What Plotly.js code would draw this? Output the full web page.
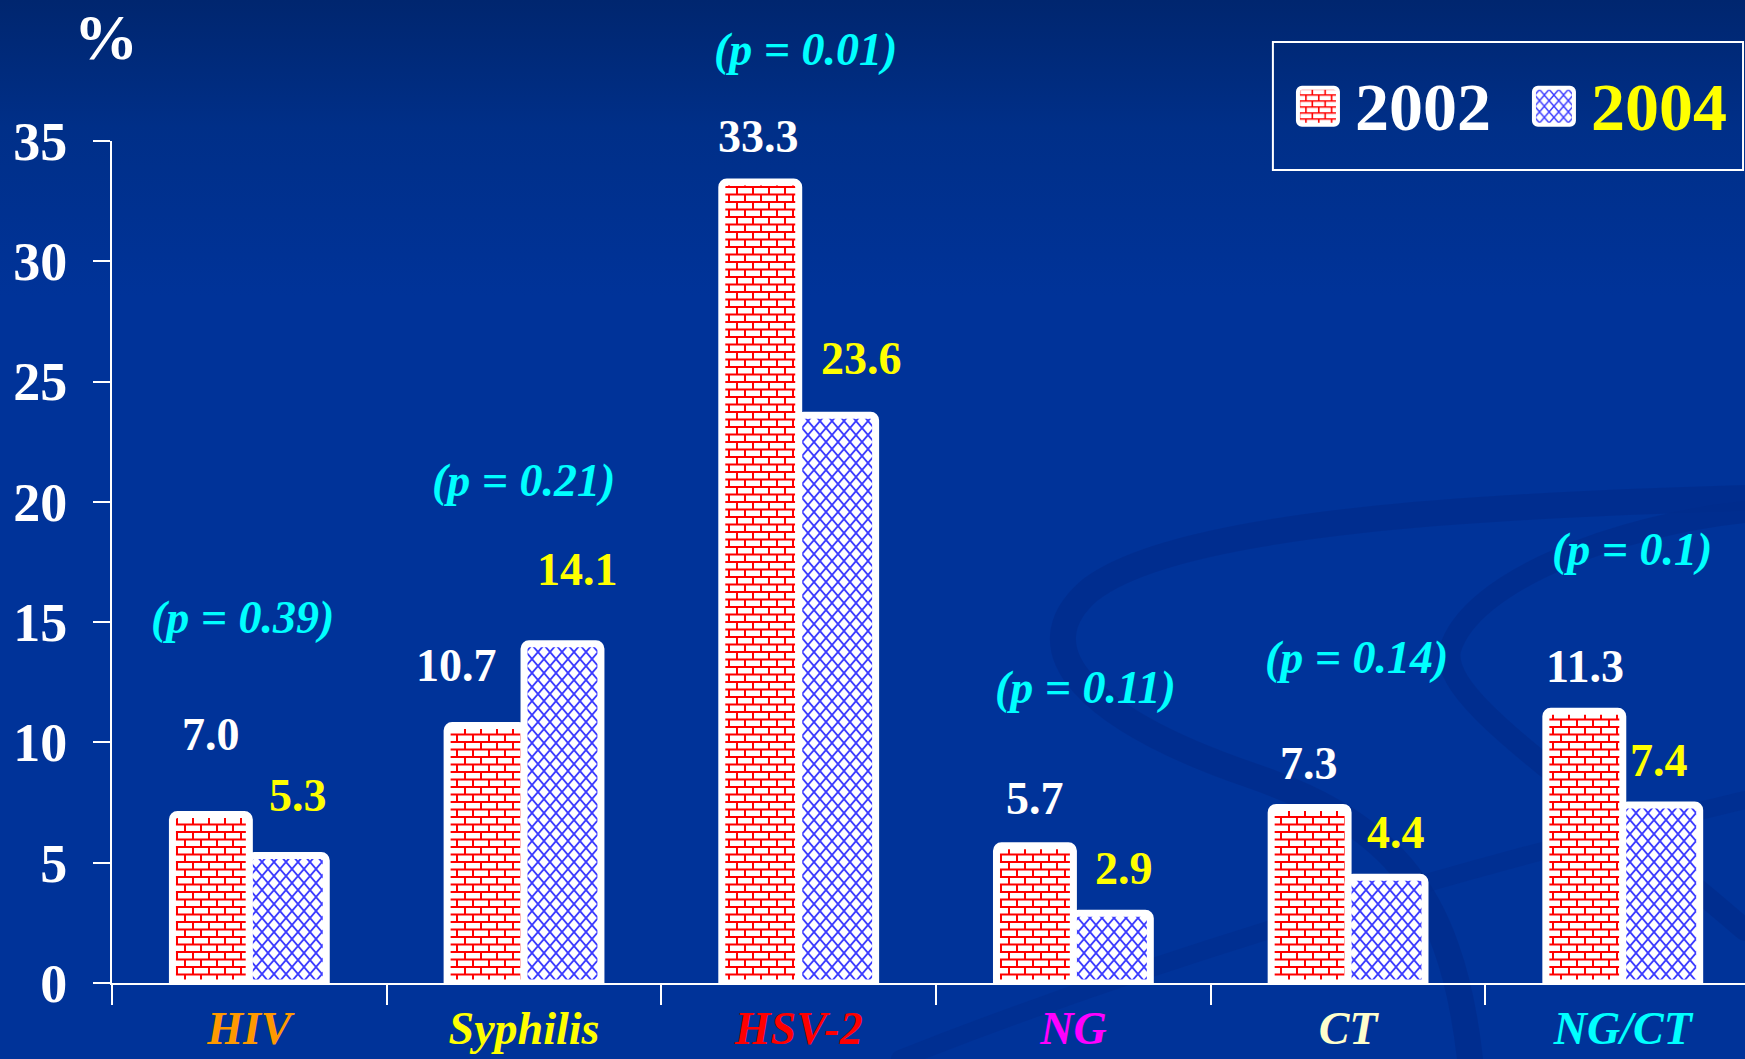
<!DOCTYPE html>
<html>
<head>
<meta charset="utf-8">
<script src="https://cdn.plot.ly/plotly-3.0.1.min.js"></script>
<style>
  html, body { margin: 0; padding: 0; width: 1745px; height: 1059px; overflow: hidden; }
  body { background: linear-gradient(180deg, #00266f 0%, #002f88 12%, #003399 28%, #003399 100%); position: relative; }
  #deco { position: absolute; left: 0; top: 0; width: 1745px; height: 1059px; }
  #chart { position: absolute; left: 0; top: 0; width: 1745px; height: 1059px; }
</style>
</head>
<body>
<svg id="deco" width="1745" height="1059" viewBox="0 0 1745 1059">
  <g fill="none" stroke="#002c8c" stroke-opacity="0.75" stroke-linecap="round">
    <path d="M1745,498 C1500,505 1180,520 1090,590 C1020,650 1090,720 1250,775 C1380,820 1450,880 1470,1059" stroke-width="26"/>
    <path d="M1745,512 C1620,525 1470,580 1450,650 C1440,700 1560,770 1745,930" stroke-width="22"/>
    <path d="M900,1059 C1150,960 1450,870 1745,800" stroke-width="18" stroke-opacity="0.5"/>
  </g>
</svg>
<div id="chart"></div>
<script>
// ---- data ----
const categories = ['HIV', 'Syphilis', 'HSV-2', 'NG', 'CT', 'NG/CT'];
const categoryColors = ['#ff9900', '#ffff00', '#ff0000', '#ff00ff', '#ffffcc', '#00ffff'];
const values2002 = [7.0, 10.7, 33.3, 5.7, 7.3, 11.3];
const values2004 = [5.3, 14.1, 23.6, 2.9, 4.4, 7.4];
const pValues = ['0.39', '0.21', '0.01', '0.11', '0.14', '0.1'];
const seriesNames = ['2002', '2004'];

// ---- label offsets (px, styling only) ----
const lift2002 = [80, 60, 45, 47, 44, 45];
const lift2004 = [60, 74, 57, 45, 45, 44];
const shiftX2002 = [0, -29, -2, 0, -1, 1];
const shiftX2004 = [10, 15, 24, 12, 9, -2];
const pLift = [197, 163, 132, 158, 150, 162];
const pShiftX = [-7, -1, 7, 12, 8, 9];

const FONT = 'Liberation Serif, Times New Roman, serif';
const half = 0.14;

const traces = [
  {
    type: 'bar', name: seriesNames[0], x: categories, y: values2002,
    marker: {
      color: '#ffffff', cornerradius: 5,
      line: { color: '#ffffff', width: 7 },
      pattern: { shape: '+', fgcolor: '#ff0000', bgcolor: '#ffffff', size: 15, solidity: 0.15 }
    },
    hoverinfo: 'skip'
  },
  {
    type: 'bar', name: '<span style="color:#ffff00">' + seriesNames[1] + '</span>', x: categories, y: values2004,
    marker: {
      color: '#ffffff', cornerradius: 5,
      line: { color: '#ffffff', width: 7 },
      pattern: { shape: 'x', fgcolor: '#3c3cff', bgcolor: '#ffffff', size: 12, solidity: 0.12 }
    },
    hoverinfo: 'skip'
  }
];

const annotations = [];
categories.forEach((c, i) => {
  annotations.push({
    x: i - half, y: values2002[i], xref: 'x', yref: 'y', showarrow: false,
    text: values2002[i].toFixed(1), xanchor: 'center', yanchor: 'middle',
    xshift: shiftX2002[i], yshift: lift2002[i],
    font: { family: FONT, size: 46, color: '#ffffff', weight: 'bold' }
  });
  annotations.push({
    x: i + half, y: values2004[i], xref: 'x', yref: 'y', showarrow: false,
    text: values2004[i].toFixed(1), xanchor: 'center', yanchor: 'middle',
    xshift: shiftX2004[i], yshift: lift2004[i],
    font: { family: FONT, size: 46, color: '#ffff00', weight: 'bold' }
  });
  annotations.push({
    x: i, y: Math.max(values2002[i], values2004[i]), xref: 'x', yref: 'y', showarrow: false,
    text: '(p = ' + pValues[i] + ')', xanchor: 'center', yanchor: 'middle',
    xshift: pShiftX[i], yshift: pLift[i],
    font: { family: FONT, size: 46, color: '#00ffff', weight: 'bold', style: 'italic' }
  });
});
annotations.push({
  x: 0, y: 1.1235, xref: 'paper', yref: 'paper', showarrow: false,
  text: '%', xanchor: 'center', yanchor: 'middle', xshift: -6,
  font: { family: FONT, size: 64, color: '#ffffff', weight: 'bold' }
});

const layout = {
  width: 1745, height: 1059,
  margin: { l: 112, r: 0, t: 141, b: 76, pad: 0, autoexpand: false },
  paper_bgcolor: 'rgba(0,0,0,0)', plot_bgcolor: 'rgba(0,0,0,0)',
  barmode: 'group', bargap: 0.44, bargroupgap: 0,
  font: { family: FONT, color: '#ffffff' },
  xaxis: {
    type: 'category', range: [-0.5, 5.445], autorange: false, automargin: false,
    tickmode: 'array', tickvals: categories,
    ticktext: categories.map((c, i) => '<span style="color:' + categoryColors[i] + '">' + c + '</span>'),
    tickson: 'boundaries', ticks: 'outside', ticklen: 20, tickwidth: 2, tickcolor: '#ffffff',
    showline: true, linecolor: '#ffffff', linewidth: 2, showgrid: false, zeroline: false,
    tickfont: { family: FONT, size: 46, weight: 'bold', style: 'italic' },
    ticklabelstandoff: 4,
    fixedrange: true
  },
  yaxis: {
    range: [0, 35], autorange: false, dtick: 5, tick0: 0, automargin: false,
    ticks: 'outside', ticklen: 17, tickwidth: 2, tickcolor: '#ffffff',
    showline: true, linecolor: '#ffffff', linewidth: 2, showgrid: false, zeroline: false,
    tickfont: { family: FONT, size: 54, weight: 'bold', color: '#ffffff' },
    ticklabelstandoff: 15,
    fixedrange: true
  },
  showlegend: true,
  legend: {
    orientation: 'h', x: 0.7244, xanchor: 'left', y: 1.0445, yanchor: 'middle',
    itemwidth: 50, entrywidth: 171, entrywidthmode: 'pixels',
    font: { family: FONT, size: 68, weight: 'bold', color: '#ffffff' },
    bgcolor: 'rgba(0,0,0,0)', borderwidth: 0, itemclick: false, itemdoubleclick: false
  },
  shapes: [{
    type: 'rect', xref: 'paper', yref: 'paper',
    x0: 0.7109, x1: 0.9988, y0: 0.9656, y1: 1.1176,
    line: { color: '#ffffff', width: 2 }, fillcolor: 'rgba(0,0,0,0)', layer: 'above'
  }],
  annotations: annotations
};

function isRed(el) {
  const html = (el.outerHTML || '').toLowerCase().replace(/\s+/g, '');
  return html.indexOf('255,0,0') >= 0 || html.indexOf('#ff0000') >= 0 || html.indexOf('#f00') >= 0;
}

function refinePatterns(gd) {
  gd.querySelectorAll('pattern').forEach(p => {
    const path = p.querySelector('path');
    if (!path) return;
    const rect = p.querySelector('rect');
    if (isRed(path)) {
      // brick
      p.setAttribute('width', 16); p.setAttribute('height', 15);
      if (rect) { rect.setAttribute('width', 16); rect.setAttribute('height', 15); }
      path.setAttribute('d', 'M0,1H16M0,8.5H16M1,1V8.5M9,8.5V16');
      path.setAttribute('stroke-width', '2');
      path.style.strokeWidth = '2px';
      path.setAttribute('fill', 'none');
    } else {
      // lattice
      p.setAttribute('width', 12); p.setAttribute('height', 14);
      if (rect) { rect.setAttribute('width', 12); rect.setAttribute('height', 14); }
      path.setAttribute('d', 'M0,0L12,14M12,0L0,14');
      path.setAttribute('stroke-width', '1.8');
      path.style.strokeWidth = '1.8px';
      path.setAttribute('fill', 'none');
    }
  });
  gd.querySelectorAll('.legendpoints path').forEach(p => {
    p.setAttribute('d', 'M-16,-18.5H16A4,4 0 0 1 20,-14.5V14.5A4,4 0 0 1 16,18.5H-16A4,4 0 0 1 -20,14.5V-14.5A4,4 0 0 1 -16,-18.5Z');
    p.setAttribute('transform', 'translate(23,3)');
    p.style.stroke = '#ffffff';
    p.style.strokeWidth = '4px';
  });
}

Plotly.newPlot('chart', traces, layout, { displayModeBar: false, staticPlot: true }).then(gd => refinePatterns(gd));
</script>
</body>
</html>
